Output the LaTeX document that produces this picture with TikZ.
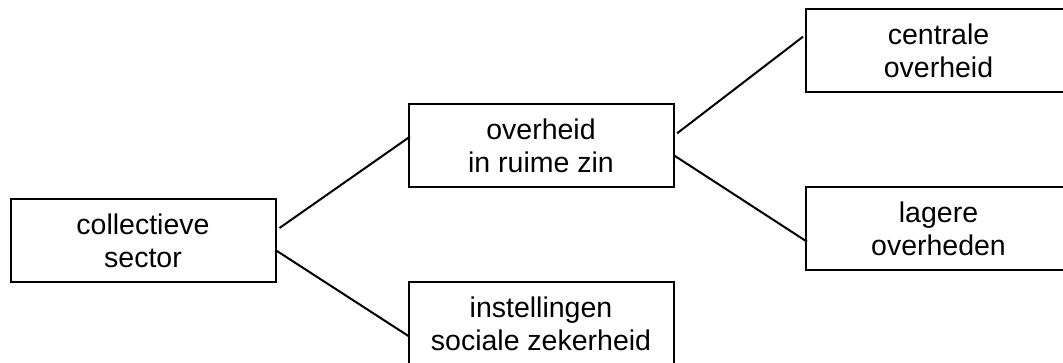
\documentclass[tikz,border=0pt]{standalone}
\usepackage{fontspec}
\setmainfont{Liberation Sans}
\usepackage{tikz}

\begin{document}
\begin{tikzpicture}[x=0.5pt, y=-0.5pt, line width=1pt,
	sectorbox/.style={draw, rectangle, minimum width=132.5pt, minimum height=41.5pt, align=center, inner sep=0pt, font=\fontsize{14.25}{16.5}\selectfont}]
			\useasboundingbox (0, 0) rectangle (1063, 363);
			\node [sectorbox] (coll) at (143, 240.5) {collectieve\\sector};
			\node [sectorbox] (overheid) at (541, 145.5) {overheid\\in ruime zin};
			\node [sectorbox] (inst) at (541, 323.5) {instellingen\\sociale zekerheid};
			\node [sectorbox] (centrale) at (938.5, 50.5) {centrale\\overheid};
			\node [sectorbox] (lagere) at (938.5, 228.5) {lagere\\overheden};
			\draw ([xshift=1.5pt, yshift=6.25pt]coll.east) -- ([xshift=1.2pt, yshift=4.4pt]overheid.west);
			\draw ([yshift=-5.1pt]coll.east) -- ([xshift=1pt, yshift=-6.6pt]inst.west);
			\draw ([xshift=1.3pt, yshift=6.1pt]overheid.east) -- ([xshift=-1pt, yshift=6.9pt]centrale.west);
			\draw ([yshift=-5.1pt]overheid.east) -- ([xshift=1pt, yshift=-6.6pt]lagere.west);
			\end{tikzpicture}
\end{document}
